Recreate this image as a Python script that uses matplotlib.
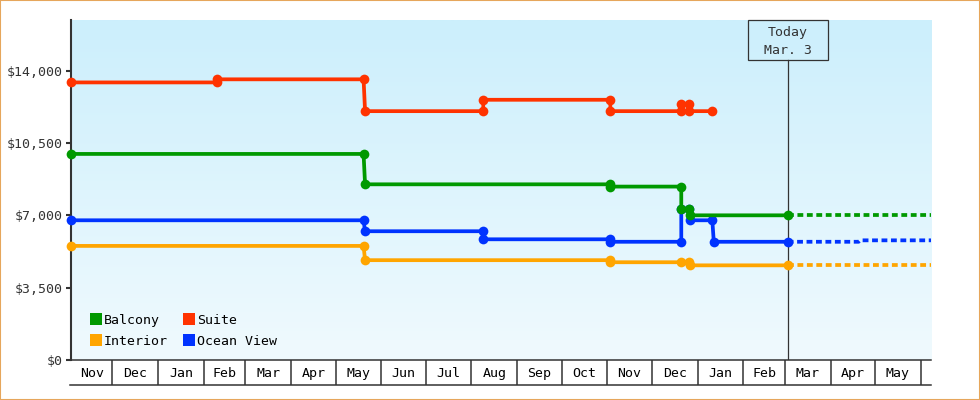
import matplotlib
matplotlib.use("Agg")
import matplotlib.pyplot as plt
import matplotlib.dates as mdates
from matplotlib.colors import LinearSegmentedColormap
from matplotlib.lines import Line2D
from matplotlib.patches import Rectangle
import numpy as np
import pandas as pd

plt.rcParams['font.family'] = ['DejaVu Sans Mono']
plt.rcParams['lines.scale_dashes'] = False

# price history (date, price) for each cabin type
suite_dates = ['2016-11-03', '2017-02-10', '2017-02-10', '2017-05-20', '2017-05-21',
               '2017-08-09', '2017-08-09', '2017-11-03', '2017-11-03', '2017-12-21',
               '2017-12-21', '2017-12-26', '2017-12-26', '2018-01-11']
suite_prices = [13430, 13430, 13580, 13580, 12040, 12040, 12590, 12590, 12040, 12040,
                12390, 12390, 12040, 12040]

balcony_dates = ['2016-11-03', '2017-05-20', '2017-05-21', '2017-11-03', '2017-11-03',
                 '2017-12-21', '2017-12-21', '2017-12-26', '2017-12-27', '2018-03-03']
balcony_prices = [9970, 9970, 8500, 8500, 8390, 8390, 7310, 7310, 7000, 7000]

ocean_dates = ['2016-11-03', '2017-05-20', '2017-05-21', '2017-08-09', '2017-08-09',
               '2017-11-03', '2017-11-03', '2017-12-21', '2017-12-21', '2017-12-26',
               '2017-12-27', '2018-01-11', '2018-01-12', '2018-03-03']
ocean_prices = [6760, 6760, 6230, 6230, 5840, 5840, 5720, 5720, 7310, 7310,
                6760, 6760, 5720, 5720]

interior_dates = ['2016-11-03', '2017-05-20', '2017-05-21', '2017-11-03', '2017-11-03',
                  '2017-12-21', '2017-12-26', '2017-12-27', '2018-03-03']
interior_prices = [5520, 5520, 4830, 4830, 4730, 4730, 4730, 4580, 4580]

# projected prices after today
balcony_fc_dates = ['2018-03-03', '2018-06-08']
balcony_fc_prices = [7000, 7000]
ocean_fc_dates = ['2018-03-03', '2018-04-20', '2018-04-21', '2018-06-08']
ocean_fc_prices = [5720, 5720, 5790, 5790]
interior_fc_dates = ['2018-03-03', '2018-06-08']
interior_fc_prices = [4580, 4580]

today = '2018-03-03'
today_label = 'Today\nMar. 3'
x_start, x_end = '2016-11-03', '2018-06-08'
y_ticks = [0, 3500, 7000, 10500, 14000]

GREEN = '#009900'
RED = '#FF3300'
ORANGE = '#FFA500'
BLUE = '#0033FF'
DARK = '#333333'

fig = plt.figure(figsize=(9.8, 4), dpi=100)
ax = fig.add_axes([71 / 980, 40 / 400, 860 / 980, 340 / 400])

# gradient background
cmap = LinearSegmentedColormap.from_list('bg', ['#F0FAFE', '#CCEFFC'])
grad = np.linspace(0, 1, 256).reshape(-1, 1)
ax.imshow(grad, extent=[0, 1, 0, 1], transform=ax.transAxes, origin='lower',
          aspect='auto', cmap=cmap, zorder=0)

d = pd.to_datetime
kw = dict(lw=2.7, marker='o', ms=7, mew=0, zorder=3, clip_on=False)
ax.plot(d(interior_dates), interior_prices, color=ORANGE, **kw)
ax.plot(d(ocean_dates), ocean_prices, color=BLUE, **kw)
ax.plot(d(balcony_dates), balcony_prices, color=GREEN, **kw)
ax.plot(d(suite_dates), suite_prices, color=RED, **kw)

fc = dict(lw=2.7, dashes=(4.2, 2.6), zorder=3)
ax.plot(d(interior_fc_dates), interior_fc_prices, color=ORANGE, **fc)
ax.plot(d(ocean_fc_dates), ocean_fc_prices, color=BLUE, **fc)
ax.plot(d(balcony_fc_dates), balcony_fc_prices, color=GREEN, **fc)

x0 = mdates.date2num(d(x_start))
x1 = mdates.date2num(d(x_end))
ax.set_xlim(x0, x1)
ax.set_ylim(0, 16450)

# y axis
ax.set_yticks(y_ticks)
ax.set_yticklabels(['${:,}'.format(v) for v in y_ticks])
ax.tick_params(axis='y', length=3.6, width=1.5, color=DARK, labelcolor=DARK,
               labelsize=9.5, pad=2)

# month boxes on x axis
month_starts = pd.date_range('2016-12-01', '2018-06-01', freq='MS')
edges = [d(x_start)] + list(month_starts) + [d(x_end)]
centers, labels = [], []
for a, b in zip(edges[:-1], edges[1:]):
    if (b - a).days < 20:
        continue
    centers.append(a + (b - a) / 2)
    labels.append(a.strftime('%b'))
ax.set_xticks(month_starts)
ax.set_xticklabels([])
ax.set_xticks(centers, minor=True)
ax.set_xticklabels(labels, minor=True)
ax.tick_params(axis='x', which='major', length=18, width=1.1, color=DARK)
ax.tick_params(axis='x', which='minor', length=0, labelsize=9.5, pad=5,
               labelcolor='black')
ax.add_line(Line2D([-1 / 860, 1], [-25 / 340, -25 / 340], transform=ax.transAxes,
                   color=DARK, lw=1.1, clip_on=False))

for s in ['top', 'right']:
    ax.spines[s].set_visible(False)
ax.spines['left'].set_color(DARK)
ax.spines['left'].set_linewidth(1.5)
ax.spines['bottom'].set_color(DARK)
ax.spines['bottom'].set_linewidth(1.1)

# today marker
tx = (mdates.date2num(d(today)) - x0) / (x1 - x0)
ax.add_line(Line2D([tx, tx], [0, 300 / 340], transform=ax.transAxes,
                   color=DARK, lw=0.9, zorder=2))
ax.add_patch(Rectangle((tx - 40 / 860, 300 / 340), 80 / 860, 40 / 340,
                       transform=ax.transAxes, fill=False, edgecolor=DARK,
                       lw=0.9, clip_on=False, zorder=2))
ax.text(tx, 318.5 / 340, today_label, transform=ax.transAxes, ha='center',
        va='center', fontsize=9.5, color=DARK, linespacing=1.5)

# legend
handles = [Line2D([], [], ls='none', marker='s', ms=8, mew=0, color=c)
           for c in [GREEN, ORANGE, RED, BLUE]]
ax.legend(handles, ['Balcony', 'Interior', 'Suite', 'Ocean View'], ncol=2,
          loc='lower left', bbox_to_anchor=(20 / 860, 12 / 340), frameon=False,
          fontsize=9.5, handlelength=0.7, handletextpad=0.3, columnspacing=1.2,
          labelspacing=0.6, borderpad=0, borderaxespad=0)

# figure border
fig.patches.append(Rectangle((0, 0), 1, 1, transform=fig.transFigure, fill=False,
                             edgecolor='#E6A65C', lw=1.5))

fig.savefig('out.png', dpi=100)
